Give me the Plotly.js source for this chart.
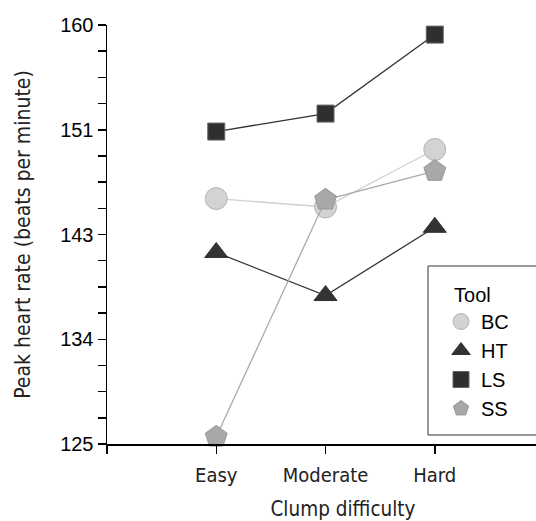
<!DOCTYPE html>
<html>
<head>
<meta charset="utf-8">
<script src="https://cdn.plot.ly/plotly-3.0.1.min.js"></script>
<style>html,body{margin:0;padding:0;background:#fff;overflow:hidden}#wrap{width:536px;height:521px;overflow:hidden}#chart{width:579px;height:521px}</style>
</head>
<body>
<div id="wrap"><div id="chart"></div></div>
<script>
// ---- data ----
const categories = ["Easy", "Moderate", "Hard"];
const tools = ["BC", "HT", "LS", "SS"];
const bcValues = [145.5, 144.8, 149.6];
const htValues = [141.0, 137.4, 143.1];
const lsValues = [151.1, 152.6, 159.2];
const ssValues = [125.6, 145.4, 147.8];
const yTickVals = [125, 133.75, 142.5, 151.25, 160];
const yTickText = ["125", "134", "143", "151", "160"];

const seriesValues = [bcValues, htValues, lsValues, ssValues];
const styles = [
  {symbol: "circle", size: 22, fill: "#d3d3d3", edge: "#b4b4b4", line: "#d0d0d0"},
  {symbol: "triangle-up", size: 20, fill: "#333333", edge: "#333333", line: "#333333"},
  {symbol: "square", size: 17, fill: "#2f2f2f", edge: "#666666", line: "#333333"},
  {symbol: "pentagon", size: 23, fill: "#a8a8a8", edge: "#999999", line: "#aaaaaa"}
];
const xIdx = categories.map((c, i) => i);

const traces = [];
tools.forEach((name, k) => {
  const s = styles[k];
  traces.push({
    x: xIdx, y: seriesValues[k], name: name, mode: "lines", type: "scatter",
    line: {color: s.line, width: 1.3}, showlegend: false, cliponaxis: false, hoverinfo: "skip"
  });
  traces.push({
    x: xIdx, y: seriesValues[k], name: name, mode: "markers", type: "scatter",
    marker: {symbol: s.symbol, size: s.size, color: s.fill, line: {color: s.edge, width: 1}},
    cliponaxis: false
  });
});

const W = 579, L = 107;
const pw = W - L;
const layout = {
  width: W, height: 521,
  margin: {l: L, r: 0, t: 25, b: 77},
  paper_bgcolor: "#fff", plot_bgcolor: "#fff",
  font: {family: "Liberation Sans, Arial, sans-serif", color: "#000"},
  xaxis: {
    range: [-1, 3.32], showgrid: false, zeroline: false,
    showline: true, linecolor: "#000", linewidth: 1.5,
    tickmode: "array", tickvals: [-1, 0, 1, 2], ticktext: [""].concat(categories),
    ticks: "outside", ticklen: 8, tickwidth: 1.5, tickcolor: "#000", ticklabelstandoff: 4,
    tickfont: {family: "DejaVu Sans Condensed, DejaVu Sans", size: 20, color: "#222"},
    title: {text: "Clump difficulty", standoff: 19,
      font: {family: "DejaVu Sans Condensed, DejaVu Sans", size: 20.5, color: "#222"}}
  },
  yaxis: {
    range: [125, 160], showgrid: false, zeroline: false,
    showline: true, linecolor: "#000", linewidth: 1.5,
    tickmode: "array", tickvals: yTickVals, ticktext: yTickText,
    ticks: "outside", ticklen: 8, tickwidth: 1.5, tickcolor: "#000",
    minor: {tick0: 125, dtick: 2.1875, ticks: "outside", ticklen: 8, tickwidth: 1.5, tickcolor: "#000", showgrid: false},
    tickfont: {family: "Liberation Sans, Arial", size: 20, color: "#000"},
    title: {text: "Peak heart rate (beats per minute)", standoff: 24,
      font: {family: "DejaVu Sans Condensed, DejaVu Sans", size: 21, color: "#222"}}
  },
  legend: {
    x: (441 - L) / pw, xanchor: "left", y: (444 - 276) / 419, yanchor: "top",
    bgcolor: "rgba(0,0,0,0)", borderwidth: 0,
    font: {family: "Liberation Sans, Arial", size: 20, color: "#000"},
    title: {text: "\u00a0\u00a0Tool", font: {family: "Liberation Sans, Arial", size: 20, color: "#000"}},
    itemsizing: "trace"
  },
  shapes: [{
    type: "rect", xref: "paper", yref: "paper",
    x0: (428 - L) / pw, x1: 1.05, y0: (444 - 435) / 419, y1: (444 - 266) / 419,
    line: {color: "#333", width: 1}, fillcolor: "rgba(0,0,0,0)", layer: "below"
  }]
};

Plotly.newPlot("chart", traces, layout, {staticPlot: true, displayModeBar: false});
</script>
</body>
</html>
